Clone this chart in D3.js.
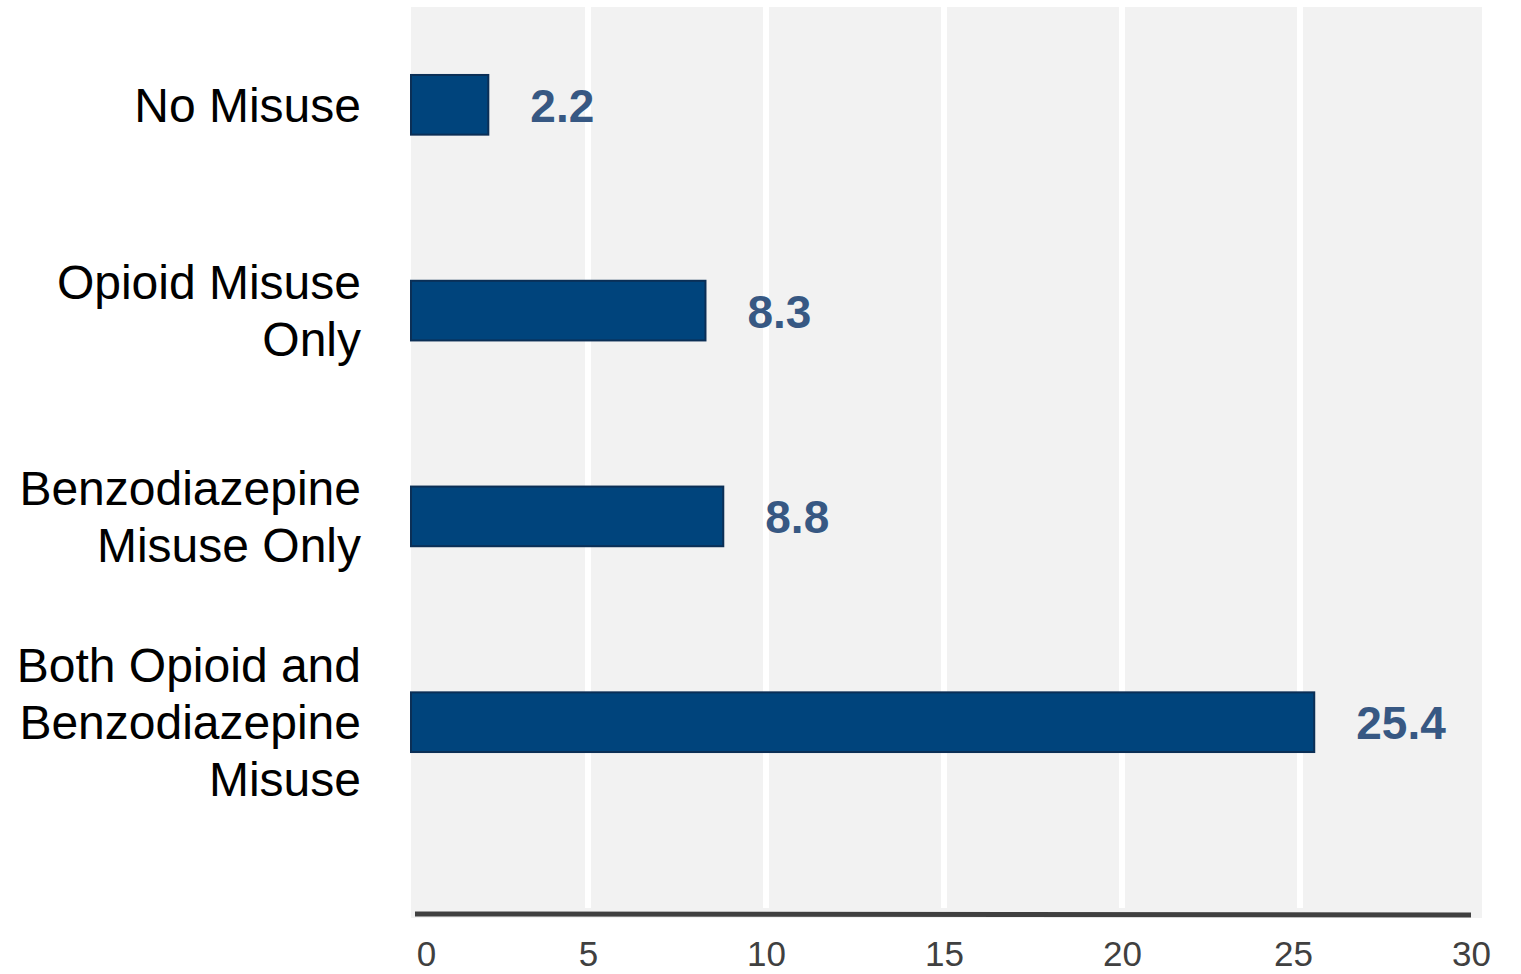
<!DOCTYPE html>
<html>
<head>
<meta charset="utf-8">
<script src="https://cdn.jsdelivr.net/npm/d3@7"></script>
<style>
  body { margin: 0; background: #fff; }
  svg text { font-family: "Liberation Sans", Arial, sans-serif; }
</style>
</head>
<body>
<div id="chart"></div>
<script>
// chart data
var categories = ["No Misuse", "Opioid Misuse Only", "Benzodiazepine Misuse Only", "Both Opioid and Benzodiazepine Misuse"];
var catLines = [["No Misuse"], ["Opioid Misuse", "Only"], ["Benzodiazepine", "Misuse Only"], ["Both Opioid and", "Benzodiazepine", "Misuse"]];
var values = [2.2, 8.3, 8.8, 25.4];
var xTicks = [0, 5, 10, 15, 20, 25, 30];

var W = 1521, H = 974;
var svg = d3.select("#chart").append("svg").attr("width", W).attr("height", H);

var x = d3.scaleLinear().domain([0, 30]).range([410, 1478]);
var y = d3.scaleBand().domain(categories).range([12, 815]).paddingInner(0.71).paddingOuter(0.306);

// plot background
svg.append("rect")
  .attr("x", 411).attr("y", 7)
  .attr("width", 1482 - 411).attr("height", 918 - 7)
  .attr("fill", "#f2f2f2");

// white gridlines
svg.append("g").selectAll("line")
  .data(xTicks.filter(function(d){ return d > 0 && d < 30; }))
  .enter().append("line")
  .attr("x1", function(d){ return x(d); })
  .attr("x2", function(d){ return x(d); })
  .attr("y1", 7).attr("y2", 908)
  .attr("stroke", "#fff").attr("stroke-width", 6);

// bars
svg.append("g").selectAll("rect")
  .data(values)
  .enter().append("rect")
  .attr("x", x(0) + 1)
  .attr("y", function(d, i){ return y(categories[i]); })
  .attr("width", function(d){ return x(d) - x(0) - 1; })
  .attr("height", y.bandwidth())
  .attr("fill", "#00447c")
  .attr("stroke", "#0b2f56").attr("stroke-width", 2);

// value labels
svg.append("g").selectAll("text")
  .data(values)
  .enter().append("text")
  .attr("x", function(d){ return x(d) + 42; })
  .attr("y", function(d, i){ return y(categories[i]) + y.bandwidth() / 2 + 17; })
  .attr("style", "font-size:46px;font-weight:bold;fill:#375883")
  .text(function(d){ return d3.format(".1f")(d); });

// category labels
var lh = 57;
var cat = svg.append("g").selectAll("text")
  .data(catLines)
  .enter().append("text")
  .attr("text-anchor", "end")
  .attr("style", "font-size:48px;fill:#000")
  .attr("y", function(d, i){
    var c = y(categories[i]) + y.bandwidth() / 2;
    return c - (d.length - 1) * lh / 2 + 17;
  });
cat.selectAll("tspan")
  .data(function(d){ return d; })
  .enter().append("tspan")
  .attr("x", 361)
  .attr("dy", function(d, i){ return i == 0 ? 0 : lh; })
  .text(function(d){ return d; });

// x axis
var xAxis = svg.append("g")
  .attr("transform", "translate(0,914)")
  .call(d3.axisBottom(x).tickValues(xTicks).tickSize(0).tickPadding(27));
xAxis.select(".domain").remove();
xAxis.append("line")
  .attr("x1", 415).attr("x2", 1471)
  .attr("y1", 0).attr("y2", 1)
  .attr("stroke", "#404040").attr("stroke-width", 5);
xAxis.selectAll(".tick text")
  .attr("style", "font-size:35px;fill:#404040;font-family:'Liberation Sans', Arial, sans-serif")
  .attr("dx", function(d){ return d == 0 ? 16 : (d >= 25 ? -7 : 0); });
</script>
</body>
</html>
